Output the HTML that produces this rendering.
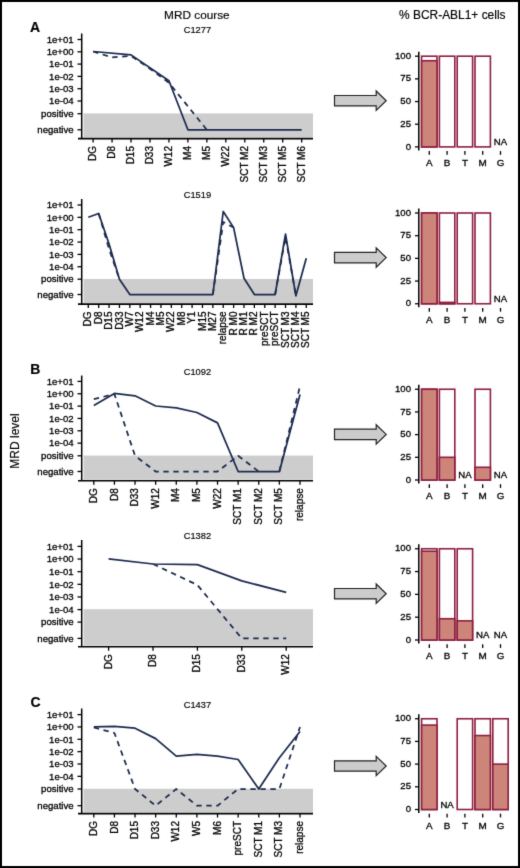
<!DOCTYPE html>
<html><head><meta charset="utf-8"><style>
html,body{margin:0;padding:0;background:#fff;}
#f{position:absolute;left:0;top:0;width:520px;height:868px;overflow:hidden;}
svg text{font-family:"Liberation Sans", sans-serif;stroke:#000;stroke-width:0.3px;}
svg text.ns{stroke-width:0.16px;}
</style></head><body><div id="f">
<svg width="520" height="868" viewBox="0 0 520 868">
<defs><filter id="bl" x="0" y="0" width="1" height="1" color-interpolation-filters="sRGB"><feConvolveMatrix order="3" kernelMatrix="0.0114 0.0841 0.0114 0.0841 0.6178 0.0841 0.0114 0.0841 0.0114" edgeMode="duplicate"/></filter></defs>
<g filter="url(#bl)">
<rect x="0" y="0" width="520" height="868" fill="#fff"/>
<rect x="83.6" y="113.45" width="229.40" height="23.95" fill="#cdcdcd"/>
<line x1="81.70" y1="33.50" x2="81.70" y2="138.70" stroke="#000" stroke-width="1.5"/>
<line x1="78.00" y1="138.60" x2="313.00" y2="138.60" stroke="#000" stroke-width="1.6"/>
<line x1="77.50" y1="39.50" x2="81.70" y2="39.50" stroke="#000" stroke-width="1.3"/>
<text x="73.60" y="42.70" font-size="9.6" text-anchor="end" font-weight="normal" fill="#000">1e+01</text>
<line x1="77.50" y1="51.80" x2="81.70" y2="51.80" stroke="#000" stroke-width="1.3"/>
<text x="73.60" y="55.00" font-size="9.6" text-anchor="end" font-weight="normal" fill="#000">1e+00</text>
<line x1="77.50" y1="64.10" x2="81.70" y2="64.10" stroke="#000" stroke-width="1.3"/>
<text x="73.60" y="67.30" font-size="9.6" text-anchor="end" font-weight="normal" fill="#000">1e-01</text>
<line x1="77.50" y1="76.40" x2="81.70" y2="76.40" stroke="#000" stroke-width="1.3"/>
<text x="73.60" y="79.60" font-size="9.6" text-anchor="end" font-weight="normal" fill="#000">1e-02</text>
<line x1="77.50" y1="88.70" x2="81.70" y2="88.70" stroke="#000" stroke-width="1.3"/>
<text x="73.60" y="91.90" font-size="9.6" text-anchor="end" font-weight="normal" fill="#000">1e-03</text>
<line x1="77.50" y1="101.00" x2="81.70" y2="101.00" stroke="#000" stroke-width="1.3"/>
<text x="73.60" y="104.20" font-size="9.6" text-anchor="end" font-weight="normal" fill="#000">1e-04</text>
<line x1="77.50" y1="113.70" x2="81.70" y2="113.70" stroke="#000" stroke-width="1.3"/>
<text x="73.60" y="116.90" font-size="9.6" text-anchor="end" font-weight="normal" fill="#000">positive</text>
<line x1="77.50" y1="129.80" x2="81.70" y2="129.80" stroke="#000" stroke-width="1.3"/>
<text x="73.60" y="133.00" font-size="9.6" text-anchor="end" font-weight="normal" fill="#000">negative</text>
<line x1="93.10" y1="138.70" x2="93.10" y2="142.50" stroke="#000" stroke-width="1.3"/>
<text x="96.20" y="146.00" font-size="10.0" text-anchor="end" font-weight="normal" fill="#000" transform="rotate(-90 96.19999999999999 146.0)">DG</text>
<line x1="112.06" y1="138.70" x2="112.06" y2="142.50" stroke="#000" stroke-width="1.3"/>
<text x="115.16" y="146.00" font-size="10.0" text-anchor="end" font-weight="normal" fill="#000" transform="rotate(-90 115.16 146.0)">D8</text>
<line x1="131.02" y1="138.70" x2="131.02" y2="142.50" stroke="#000" stroke-width="1.3"/>
<text x="134.12" y="146.00" font-size="10.0" text-anchor="end" font-weight="normal" fill="#000" transform="rotate(-90 134.11999999999998 146.0)">D15</text>
<line x1="149.98" y1="138.70" x2="149.98" y2="142.50" stroke="#000" stroke-width="1.3"/>
<text x="153.08" y="146.00" font-size="10.0" text-anchor="end" font-weight="normal" fill="#000" transform="rotate(-90 153.07999999999998 146.0)">D33</text>
<line x1="168.94" y1="138.70" x2="168.94" y2="142.50" stroke="#000" stroke-width="1.3"/>
<text x="172.04" y="146.00" font-size="10.0" text-anchor="end" font-weight="normal" fill="#000" transform="rotate(-90 172.04 146.0)">W12</text>
<line x1="187.90" y1="138.70" x2="187.90" y2="142.50" stroke="#000" stroke-width="1.3"/>
<text x="191.00" y="146.00" font-size="10.0" text-anchor="end" font-weight="normal" fill="#000" transform="rotate(-90 191.0 146.0)">M4</text>
<line x1="206.86" y1="138.70" x2="206.86" y2="142.50" stroke="#000" stroke-width="1.3"/>
<text x="209.96" y="146.00" font-size="10.0" text-anchor="end" font-weight="normal" fill="#000" transform="rotate(-90 209.96 146.0)">M5</text>
<line x1="225.82" y1="138.70" x2="225.82" y2="142.50" stroke="#000" stroke-width="1.3"/>
<text x="228.92" y="146.00" font-size="10.0" text-anchor="end" font-weight="normal" fill="#000" transform="rotate(-90 228.92 146.0)">W22</text>
<line x1="244.78" y1="138.70" x2="244.78" y2="142.50" stroke="#000" stroke-width="1.3"/>
<text x="247.88" y="146.00" font-size="10.0" text-anchor="end" font-weight="normal" fill="#000" transform="rotate(-90 247.88 146.0)">SCT M2</text>
<line x1="263.74" y1="138.70" x2="263.74" y2="142.50" stroke="#000" stroke-width="1.3"/>
<text x="266.84" y="146.00" font-size="10.0" text-anchor="end" font-weight="normal" fill="#000" transform="rotate(-90 266.84000000000003 146.0)">SCT M3</text>
<line x1="282.70" y1="138.70" x2="282.70" y2="142.50" stroke="#000" stroke-width="1.3"/>
<text x="285.80" y="146.00" font-size="10.0" text-anchor="end" font-weight="normal" fill="#000" transform="rotate(-90 285.80000000000007 146.0)">SCT M5</text>
<line x1="301.66" y1="138.70" x2="301.66" y2="142.50" stroke="#000" stroke-width="1.3"/>
<text x="304.76" y="146.00" font-size="10.0" text-anchor="end" font-weight="normal" fill="#000" transform="rotate(-90 304.76 146.0)">SCT M6</text>
<text x="197.40" y="33.30" font-size="9.3" text-anchor="middle" font-weight="normal" fill="#000" class="ns">C1277</text>
<polyline points="93.10,51.50 112.06,57.40 131.02,55.80 149.98,68.80 168.94,82.80 206.86,129.80" fill="none" stroke="#1d2b4e" stroke-width="1.75" stroke-linejoin="round" stroke-dasharray="5.4 4.6"/>
<polyline points="93.10,51.50 131.02,54.90 168.94,80.70 187.90,129.80 301.66,129.80" fill="none" stroke="#1d2b4e" stroke-width="1.75" stroke-linejoin="round"/>
<rect x="83.6" y="278.95" width="229.40" height="23.95" fill="#cdcdcd"/>
<line x1="81.70" y1="199.00" x2="81.70" y2="304.20" stroke="#000" stroke-width="1.5"/>
<line x1="78.00" y1="304.10" x2="313.00" y2="304.10" stroke="#000" stroke-width="1.6"/>
<line x1="77.50" y1="205.00" x2="81.70" y2="205.00" stroke="#000" stroke-width="1.3"/>
<text x="73.60" y="208.20" font-size="9.6" text-anchor="end" font-weight="normal" fill="#000">1e+01</text>
<line x1="77.50" y1="217.35" x2="81.70" y2="217.35" stroke="#000" stroke-width="1.3"/>
<text x="73.60" y="220.55" font-size="9.6" text-anchor="end" font-weight="normal" fill="#000">1e+00</text>
<line x1="77.50" y1="229.70" x2="81.70" y2="229.70" stroke="#000" stroke-width="1.3"/>
<text x="73.60" y="232.90" font-size="9.6" text-anchor="end" font-weight="normal" fill="#000">1e-01</text>
<line x1="77.50" y1="242.05" x2="81.70" y2="242.05" stroke="#000" stroke-width="1.3"/>
<text x="73.60" y="245.25" font-size="9.6" text-anchor="end" font-weight="normal" fill="#000">1e-02</text>
<line x1="77.50" y1="254.40" x2="81.70" y2="254.40" stroke="#000" stroke-width="1.3"/>
<text x="73.60" y="257.60" font-size="9.6" text-anchor="end" font-weight="normal" fill="#000">1e-03</text>
<line x1="77.50" y1="266.75" x2="81.70" y2="266.75" stroke="#000" stroke-width="1.3"/>
<text x="73.60" y="269.95" font-size="9.6" text-anchor="end" font-weight="normal" fill="#000">1e-04</text>
<line x1="77.50" y1="279.20" x2="81.70" y2="279.20" stroke="#000" stroke-width="1.3"/>
<text x="73.60" y="282.40" font-size="9.6" text-anchor="end" font-weight="normal" fill="#000">positive</text>
<line x1="77.50" y1="294.50" x2="81.70" y2="294.50" stroke="#000" stroke-width="1.3"/>
<text x="73.60" y="297.70" font-size="9.6" text-anchor="end" font-weight="normal" fill="#000">negative</text>
<line x1="88.30" y1="304.20" x2="88.30" y2="308.00" stroke="#000" stroke-width="1.3"/>
<text x="91.40" y="311.50" font-size="10.0" text-anchor="end" font-weight="normal" fill="#000" transform="rotate(-90 91.39999999999999 311.5)">DG</text>
<line x1="98.68" y1="304.20" x2="98.68" y2="308.00" stroke="#000" stroke-width="1.3"/>
<text x="101.78" y="311.50" font-size="10.0" text-anchor="end" font-weight="normal" fill="#000" transform="rotate(-90 101.77999999999999 311.5)">D8</text>
<line x1="109.06" y1="304.20" x2="109.06" y2="308.00" stroke="#000" stroke-width="1.3"/>
<text x="112.16" y="311.50" font-size="10.0" text-anchor="end" font-weight="normal" fill="#000" transform="rotate(-90 112.16 311.5)">D15</text>
<line x1="119.44" y1="304.20" x2="119.44" y2="308.00" stroke="#000" stroke-width="1.3"/>
<text x="122.54" y="311.50" font-size="10.0" text-anchor="end" font-weight="normal" fill="#000" transform="rotate(-90 122.53999999999999 311.5)">D33</text>
<line x1="129.82" y1="304.20" x2="129.82" y2="308.00" stroke="#000" stroke-width="1.3"/>
<text x="132.92" y="311.50" font-size="10.0" text-anchor="end" font-weight="normal" fill="#000" transform="rotate(-90 132.92 311.5)">W7</text>
<line x1="140.20" y1="304.20" x2="140.20" y2="308.00" stroke="#000" stroke-width="1.3"/>
<text x="143.30" y="311.50" font-size="10.0" text-anchor="end" font-weight="normal" fill="#000" transform="rotate(-90 143.29999999999998 311.5)">W12</text>
<line x1="150.58" y1="304.20" x2="150.58" y2="308.00" stroke="#000" stroke-width="1.3"/>
<text x="153.68" y="311.50" font-size="10.0" text-anchor="end" font-weight="normal" fill="#000" transform="rotate(-90 153.67999999999998 311.5)">M4</text>
<line x1="160.96" y1="304.20" x2="160.96" y2="308.00" stroke="#000" stroke-width="1.3"/>
<text x="164.06" y="311.50" font-size="10.0" text-anchor="end" font-weight="normal" fill="#000" transform="rotate(-90 164.06 311.5)">M5</text>
<line x1="171.34" y1="304.20" x2="171.34" y2="308.00" stroke="#000" stroke-width="1.3"/>
<text x="174.44" y="311.50" font-size="10.0" text-anchor="end" font-weight="normal" fill="#000" transform="rotate(-90 174.44 311.5)">W22</text>
<line x1="181.72" y1="304.20" x2="181.72" y2="308.00" stroke="#000" stroke-width="1.3"/>
<text x="184.82" y="311.50" font-size="10.0" text-anchor="end" font-weight="normal" fill="#000" transform="rotate(-90 184.82 311.5)">M8</text>
<line x1="192.10" y1="304.20" x2="192.10" y2="308.00" stroke="#000" stroke-width="1.3"/>
<text x="195.20" y="311.50" font-size="10.0" text-anchor="end" font-weight="normal" fill="#000" transform="rotate(-90 195.20000000000002 311.5)">Y1</text>
<line x1="202.48" y1="304.20" x2="202.48" y2="308.00" stroke="#000" stroke-width="1.3"/>
<text x="205.58" y="311.50" font-size="10.0" text-anchor="end" font-weight="normal" fill="#000" transform="rotate(-90 205.58 311.5)">M15</text>
<line x1="212.86" y1="304.20" x2="212.86" y2="308.00" stroke="#000" stroke-width="1.3"/>
<text x="215.96" y="311.50" font-size="10.0" text-anchor="end" font-weight="normal" fill="#000" transform="rotate(-90 215.96 311.5)">M27</text>
<line x1="223.24" y1="304.20" x2="223.24" y2="308.00" stroke="#000" stroke-width="1.3"/>
<text x="226.34" y="311.50" font-size="10.0" text-anchor="end" font-weight="normal" fill="#000" transform="rotate(-90 226.34 311.5)">relapse</text>
<line x1="233.62" y1="304.20" x2="233.62" y2="308.00" stroke="#000" stroke-width="1.3"/>
<text x="236.72" y="311.50" font-size="10.0" text-anchor="end" font-weight="normal" fill="#000" transform="rotate(-90 236.72 311.5)">R M0</text>
<line x1="244.00" y1="304.20" x2="244.00" y2="308.00" stroke="#000" stroke-width="1.3"/>
<text x="247.10" y="311.50" font-size="10.0" text-anchor="end" font-weight="normal" fill="#000" transform="rotate(-90 247.1 311.5)">R M1</text>
<line x1="254.38" y1="304.20" x2="254.38" y2="308.00" stroke="#000" stroke-width="1.3"/>
<text x="257.48" y="311.50" font-size="10.0" text-anchor="end" font-weight="normal" fill="#000" transform="rotate(-90 257.48 311.5)">R M2</text>
<line x1="264.76" y1="304.20" x2="264.76" y2="308.00" stroke="#000" stroke-width="1.3"/>
<text x="267.86" y="311.50" font-size="10.0" text-anchor="end" font-weight="normal" fill="#000" transform="rotate(-90 267.86 311.5)">preSCT</text>
<line x1="275.14" y1="304.20" x2="275.14" y2="308.00" stroke="#000" stroke-width="1.3"/>
<text x="278.24" y="311.50" font-size="10.0" text-anchor="end" font-weight="normal" fill="#000" transform="rotate(-90 278.24 311.5)">preSCT</text>
<line x1="285.52" y1="304.20" x2="285.52" y2="308.00" stroke="#000" stroke-width="1.3"/>
<text x="288.62" y="311.50" font-size="10.0" text-anchor="end" font-weight="normal" fill="#000" transform="rotate(-90 288.62000000000006 311.5)">SCT M3</text>
<line x1="295.90" y1="304.20" x2="295.90" y2="308.00" stroke="#000" stroke-width="1.3"/>
<text x="299.00" y="311.50" font-size="10.0" text-anchor="end" font-weight="normal" fill="#000" transform="rotate(-90 299.00000000000006 311.5)">SCT M4</text>
<line x1="306.28" y1="304.20" x2="306.28" y2="308.00" stroke="#000" stroke-width="1.3"/>
<text x="309.38" y="311.50" font-size="10.0" text-anchor="end" font-weight="normal" fill="#000" transform="rotate(-90 309.38000000000005 311.5)">SCT M5</text>
<text x="197.40" y="198.00" font-size="9.3" text-anchor="middle" font-weight="normal" fill="#000" class="ns">C1519</text>
<polyline points="98.68,213.50 109.06,249.00 119.44,279.20" fill="none" stroke="#1d2b4e" stroke-width="1.75" stroke-linejoin="round" stroke-dasharray="5.4 4.6"/>
<polyline points="212.86,294.50 223.24,222.00 233.62,227.60" fill="none" stroke="#1d2b4e" stroke-width="1.75" stroke-linejoin="round" stroke-dasharray="5.4 4.6"/>
<polyline points="275.14,294.50 285.52,237.00 295.90,295.80" fill="none" stroke="#1d2b4e" stroke-width="1.75" stroke-linejoin="round" stroke-dasharray="5.4 4.6"/>
<polyline points="88.30,217.30 98.68,213.50 109.06,244.00 119.44,279.20 129.82,294.50 212.86,294.50 223.24,211.50 233.62,227.60 244.00,278.30 254.38,294.50 275.14,294.50 285.52,234.20 295.90,295.80 306.28,258.20" fill="none" stroke="#1d2b4e" stroke-width="1.75" stroke-linejoin="round"/>
<rect x="83.6" y="455.55" width="229.40" height="24.05" fill="#cdcdcd"/>
<line x1="81.70" y1="375.50" x2="81.70" y2="480.90" stroke="#000" stroke-width="1.5"/>
<line x1="78.00" y1="480.80" x2="313.00" y2="480.80" stroke="#000" stroke-width="1.6"/>
<line x1="77.50" y1="381.40" x2="81.70" y2="381.40" stroke="#000" stroke-width="1.3"/>
<text x="73.60" y="384.60" font-size="9.6" text-anchor="end" font-weight="normal" fill="#000">1e+01</text>
<line x1="77.50" y1="393.75" x2="81.70" y2="393.75" stroke="#000" stroke-width="1.3"/>
<text x="73.60" y="396.95" font-size="9.6" text-anchor="end" font-weight="normal" fill="#000">1e+00</text>
<line x1="77.50" y1="406.10" x2="81.70" y2="406.10" stroke="#000" stroke-width="1.3"/>
<text x="73.60" y="409.30" font-size="9.6" text-anchor="end" font-weight="normal" fill="#000">1e-01</text>
<line x1="77.50" y1="418.45" x2="81.70" y2="418.45" stroke="#000" stroke-width="1.3"/>
<text x="73.60" y="421.65" font-size="9.6" text-anchor="end" font-weight="normal" fill="#000">1e-02</text>
<line x1="77.50" y1="430.80" x2="81.70" y2="430.80" stroke="#000" stroke-width="1.3"/>
<text x="73.60" y="434.00" font-size="9.6" text-anchor="end" font-weight="normal" fill="#000">1e-03</text>
<line x1="77.50" y1="443.15" x2="81.70" y2="443.15" stroke="#000" stroke-width="1.3"/>
<text x="73.60" y="446.35" font-size="9.6" text-anchor="end" font-weight="normal" fill="#000">1e-04</text>
<line x1="77.50" y1="455.80" x2="81.70" y2="455.80" stroke="#000" stroke-width="1.3"/>
<text x="73.60" y="459.00" font-size="9.6" text-anchor="end" font-weight="normal" fill="#000">positive</text>
<line x1="77.50" y1="471.50" x2="81.70" y2="471.50" stroke="#000" stroke-width="1.3"/>
<text x="73.60" y="474.70" font-size="9.6" text-anchor="end" font-weight="normal" fill="#000">negative</text>
<line x1="93.80" y1="480.90" x2="93.80" y2="484.70" stroke="#000" stroke-width="1.3"/>
<text x="96.90" y="488.20" font-size="10.0" text-anchor="end" font-weight="normal" fill="#000" transform="rotate(-90 96.89999999999999 488.2)">DG</text>
<line x1="114.42" y1="480.90" x2="114.42" y2="484.70" stroke="#000" stroke-width="1.3"/>
<text x="117.52" y="488.20" font-size="10.0" text-anchor="end" font-weight="normal" fill="#000" transform="rotate(-90 117.52 488.2)">D8</text>
<line x1="135.04" y1="480.90" x2="135.04" y2="484.70" stroke="#000" stroke-width="1.3"/>
<text x="138.14" y="488.20" font-size="10.0" text-anchor="end" font-weight="normal" fill="#000" transform="rotate(-90 138.14 488.2)">D33</text>
<line x1="155.66" y1="480.90" x2="155.66" y2="484.70" stroke="#000" stroke-width="1.3"/>
<text x="158.76" y="488.20" font-size="10.0" text-anchor="end" font-weight="normal" fill="#000" transform="rotate(-90 158.76 488.2)">W12</text>
<line x1="176.28" y1="480.90" x2="176.28" y2="484.70" stroke="#000" stroke-width="1.3"/>
<text x="179.38" y="488.20" font-size="10.0" text-anchor="end" font-weight="normal" fill="#000" transform="rotate(-90 179.38 488.2)">M4</text>
<line x1="196.90" y1="480.90" x2="196.90" y2="484.70" stroke="#000" stroke-width="1.3"/>
<text x="200.00" y="488.20" font-size="10.0" text-anchor="end" font-weight="normal" fill="#000" transform="rotate(-90 200.0 488.2)">M5</text>
<line x1="217.52" y1="480.90" x2="217.52" y2="484.70" stroke="#000" stroke-width="1.3"/>
<text x="220.62" y="488.20" font-size="10.0" text-anchor="end" font-weight="normal" fill="#000" transform="rotate(-90 220.61999999999998 488.2)">W22</text>
<line x1="238.14" y1="480.90" x2="238.14" y2="484.70" stroke="#000" stroke-width="1.3"/>
<text x="241.24" y="488.20" font-size="10.0" text-anchor="end" font-weight="normal" fill="#000" transform="rotate(-90 241.23999999999998 488.2)">SCT M1</text>
<line x1="258.76" y1="480.90" x2="258.76" y2="484.70" stroke="#000" stroke-width="1.3"/>
<text x="261.86" y="488.20" font-size="10.0" text-anchor="end" font-weight="normal" fill="#000" transform="rotate(-90 261.86 488.2)">SCT M2</text>
<line x1="279.38" y1="480.90" x2="279.38" y2="484.70" stroke="#000" stroke-width="1.3"/>
<text x="282.48" y="488.20" font-size="10.0" text-anchor="end" font-weight="normal" fill="#000" transform="rotate(-90 282.48 488.2)">SCT M5</text>
<line x1="300.00" y1="480.90" x2="300.00" y2="484.70" stroke="#000" stroke-width="1.3"/>
<text x="303.10" y="488.20" font-size="10.0" text-anchor="end" font-weight="normal" fill="#000" transform="rotate(-90 303.1 488.2)">relapse</text>
<text x="197.40" y="374.60" font-size="9.3" text-anchor="middle" font-weight="normal" fill="#000" class="ns">C1092</text>
<polyline points="93.80,399.20 114.42,394.00 135.04,455.80 155.66,471.50 217.52,471.50 238.14,455.80 258.76,471.50" fill="none" stroke="#1d2b4e" stroke-width="1.75" stroke-linejoin="round" stroke-dasharray="5.4 4.6"/>
<polyline points="279.38,471.50 300.00,386.00" fill="none" stroke="#1d2b4e" stroke-width="1.75" stroke-linejoin="round" stroke-dasharray="5.4 4.6"/>
<polyline points="93.80,405.40 114.42,393.40 135.04,395.80 155.66,406.00 176.28,407.80 196.90,412.50 217.52,422.90 238.14,471.50 279.38,471.50 300.00,394.60" fill="none" stroke="#1d2b4e" stroke-width="1.75" stroke-linejoin="round"/>
<rect x="83.6" y="609.20" width="229.40" height="36.40" fill="#cdcdcd"/>
<line x1="81.70" y1="540.00" x2="81.70" y2="646.90" stroke="#000" stroke-width="1.5"/>
<line x1="78.00" y1="646.80" x2="313.00" y2="646.80" stroke="#000" stroke-width="1.6"/>
<line x1="77.50" y1="546.40" x2="81.70" y2="546.40" stroke="#000" stroke-width="1.3"/>
<text x="73.60" y="549.60" font-size="9.6" text-anchor="end" font-weight="normal" fill="#000">1e+01</text>
<line x1="77.50" y1="559.04" x2="81.70" y2="559.04" stroke="#000" stroke-width="1.3"/>
<text x="73.60" y="562.24" font-size="9.6" text-anchor="end" font-weight="normal" fill="#000">1e+00</text>
<line x1="77.50" y1="571.68" x2="81.70" y2="571.68" stroke="#000" stroke-width="1.3"/>
<text x="73.60" y="574.88" font-size="9.6" text-anchor="end" font-weight="normal" fill="#000">1e-01</text>
<line x1="77.50" y1="584.32" x2="81.70" y2="584.32" stroke="#000" stroke-width="1.3"/>
<text x="73.60" y="587.52" font-size="9.6" text-anchor="end" font-weight="normal" fill="#000">1e-02</text>
<line x1="77.50" y1="596.96" x2="81.70" y2="596.96" stroke="#000" stroke-width="1.3"/>
<text x="73.60" y="600.16" font-size="9.6" text-anchor="end" font-weight="normal" fill="#000">1e-03</text>
<line x1="77.50" y1="609.60" x2="81.70" y2="609.60" stroke="#000" stroke-width="1.3"/>
<text x="73.60" y="612.80" font-size="9.6" text-anchor="end" font-weight="normal" fill="#000">1e-04</text>
<line x1="77.50" y1="622.10" x2="81.70" y2="622.10" stroke="#000" stroke-width="1.3"/>
<text x="73.60" y="625.30" font-size="9.6" text-anchor="end" font-weight="normal" fill="#000">positive</text>
<line x1="77.50" y1="638.40" x2="81.70" y2="638.40" stroke="#000" stroke-width="1.3"/>
<text x="73.60" y="641.60" font-size="9.6" text-anchor="end" font-weight="normal" fill="#000">negative</text>
<line x1="108.60" y1="646.90" x2="108.60" y2="650.70" stroke="#000" stroke-width="1.3"/>
<text x="111.70" y="654.20" font-size="10.0" text-anchor="end" font-weight="normal" fill="#000" transform="rotate(-90 111.69999999999999 654.2)">DG</text>
<line x1="153.00" y1="646.90" x2="153.00" y2="650.70" stroke="#000" stroke-width="1.3"/>
<text x="156.10" y="654.20" font-size="10.0" text-anchor="end" font-weight="normal" fill="#000" transform="rotate(-90 156.1 654.2)">D8</text>
<line x1="197.40" y1="646.90" x2="197.40" y2="650.70" stroke="#000" stroke-width="1.3"/>
<text x="200.50" y="654.20" font-size="10.0" text-anchor="end" font-weight="normal" fill="#000" transform="rotate(-90 200.49999999999997 654.2)">D15</text>
<line x1="241.80" y1="646.90" x2="241.80" y2="650.70" stroke="#000" stroke-width="1.3"/>
<text x="244.90" y="654.20" font-size="10.0" text-anchor="end" font-weight="normal" fill="#000" transform="rotate(-90 244.89999999999998 654.2)">D33</text>
<line x1="286.20" y1="646.90" x2="286.20" y2="650.70" stroke="#000" stroke-width="1.3"/>
<text x="289.30" y="654.20" font-size="10.0" text-anchor="end" font-weight="normal" fill="#000" transform="rotate(-90 289.3 654.2)">W12</text>
<text x="197.40" y="539.00" font-size="9.3" text-anchor="middle" font-weight="normal" fill="#000" class="ns">C1382</text>
<polyline points="153.00,564.00 197.40,585.00 241.80,638.40 286.20,638.40" fill="none" stroke="#1d2b4e" stroke-width="1.75" stroke-linejoin="round" stroke-dasharray="5.4 4.6"/>
<polyline points="108.60,558.80 153.00,564.00 197.40,564.60 241.80,580.90 286.20,592.30" fill="none" stroke="#1d2b4e" stroke-width="1.75" stroke-linejoin="round"/>
<rect x="83.6" y="788.75" width="229.40" height="23.65" fill="#cdcdcd"/>
<line x1="81.70" y1="708.50" x2="81.70" y2="813.70" stroke="#000" stroke-width="1.5"/>
<line x1="78.00" y1="813.60" x2="313.00" y2="813.60" stroke="#000" stroke-width="1.6"/>
<line x1="77.50" y1="714.60" x2="81.70" y2="714.60" stroke="#000" stroke-width="1.3"/>
<text x="73.60" y="717.80" font-size="9.6" text-anchor="end" font-weight="normal" fill="#000">1e+01</text>
<line x1="77.50" y1="726.95" x2="81.70" y2="726.95" stroke="#000" stroke-width="1.3"/>
<text x="73.60" y="730.15" font-size="9.6" text-anchor="end" font-weight="normal" fill="#000">1e+00</text>
<line x1="77.50" y1="739.30" x2="81.70" y2="739.30" stroke="#000" stroke-width="1.3"/>
<text x="73.60" y="742.50" font-size="9.6" text-anchor="end" font-weight="normal" fill="#000">1e-01</text>
<line x1="77.50" y1="751.65" x2="81.70" y2="751.65" stroke="#000" stroke-width="1.3"/>
<text x="73.60" y="754.85" font-size="9.6" text-anchor="end" font-weight="normal" fill="#000">1e-02</text>
<line x1="77.50" y1="764.00" x2="81.70" y2="764.00" stroke="#000" stroke-width="1.3"/>
<text x="73.60" y="767.20" font-size="9.6" text-anchor="end" font-weight="normal" fill="#000">1e-03</text>
<line x1="77.50" y1="776.35" x2="81.70" y2="776.35" stroke="#000" stroke-width="1.3"/>
<text x="73.60" y="779.55" font-size="9.6" text-anchor="end" font-weight="normal" fill="#000">1e-04</text>
<line x1="77.50" y1="789.00" x2="81.70" y2="789.00" stroke="#000" stroke-width="1.3"/>
<text x="73.60" y="792.20" font-size="9.6" text-anchor="end" font-weight="normal" fill="#000">positive</text>
<line x1="77.50" y1="805.70" x2="81.70" y2="805.70" stroke="#000" stroke-width="1.3"/>
<text x="73.60" y="808.90" font-size="9.6" text-anchor="end" font-weight="normal" fill="#000">negative</text>
<line x1="93.80" y1="813.70" x2="93.80" y2="817.50" stroke="#000" stroke-width="1.3"/>
<text x="96.90" y="821.00" font-size="10.0" text-anchor="end" font-weight="normal" fill="#000" transform="rotate(-90 96.89999999999999 821.0)">DG</text>
<line x1="114.42" y1="813.70" x2="114.42" y2="817.50" stroke="#000" stroke-width="1.3"/>
<text x="117.52" y="821.00" font-size="10.0" text-anchor="end" font-weight="normal" fill="#000" transform="rotate(-90 117.52 821.0)">D8</text>
<line x1="135.04" y1="813.70" x2="135.04" y2="817.50" stroke="#000" stroke-width="1.3"/>
<text x="138.14" y="821.00" font-size="10.0" text-anchor="end" font-weight="normal" fill="#000" transform="rotate(-90 138.14 821.0)">D15</text>
<line x1="155.66" y1="813.70" x2="155.66" y2="817.50" stroke="#000" stroke-width="1.3"/>
<text x="158.76" y="821.00" font-size="10.0" text-anchor="end" font-weight="normal" fill="#000" transform="rotate(-90 158.76 821.0)">D33</text>
<line x1="176.28" y1="813.70" x2="176.28" y2="817.50" stroke="#000" stroke-width="1.3"/>
<text x="179.38" y="821.00" font-size="10.0" text-anchor="end" font-weight="normal" fill="#000" transform="rotate(-90 179.38 821.0)">W12</text>
<line x1="196.90" y1="813.70" x2="196.90" y2="817.50" stroke="#000" stroke-width="1.3"/>
<text x="200.00" y="821.00" font-size="10.0" text-anchor="end" font-weight="normal" fill="#000" transform="rotate(-90 200.0 821.0)">W5</text>
<line x1="217.52" y1="813.70" x2="217.52" y2="817.50" stroke="#000" stroke-width="1.3"/>
<text x="220.62" y="821.00" font-size="10.0" text-anchor="end" font-weight="normal" fill="#000" transform="rotate(-90 220.61999999999998 821.0)">M6</text>
<line x1="238.14" y1="813.70" x2="238.14" y2="817.50" stroke="#000" stroke-width="1.3"/>
<text x="241.24" y="821.00" font-size="10.0" text-anchor="end" font-weight="normal" fill="#000" transform="rotate(-90 241.23999999999998 821.0)">preSCT</text>
<line x1="258.76" y1="813.70" x2="258.76" y2="817.50" stroke="#000" stroke-width="1.3"/>
<text x="261.86" y="821.00" font-size="10.0" text-anchor="end" font-weight="normal" fill="#000" transform="rotate(-90 261.86 821.0)">SCT M1</text>
<line x1="279.38" y1="813.70" x2="279.38" y2="817.50" stroke="#000" stroke-width="1.3"/>
<text x="282.48" y="821.00" font-size="10.0" text-anchor="end" font-weight="normal" fill="#000" transform="rotate(-90 282.48 821.0)">SCT M3</text>
<line x1="300.00" y1="813.70" x2="300.00" y2="817.50" stroke="#000" stroke-width="1.3"/>
<text x="303.10" y="821.00" font-size="10.0" text-anchor="end" font-weight="normal" fill="#000" transform="rotate(-90 303.1 821.0)">relapse</text>
<text x="197.40" y="707.80" font-size="9.3" text-anchor="middle" font-weight="normal" fill="#000" class="ns">C1437</text>
<polyline points="93.80,727.50 114.42,733.00 135.04,789.00 155.66,805.70 176.28,789.00 196.90,805.70 217.52,805.70 238.14,789.00 258.76,789.00 279.38,789.00 300.00,727.00" fill="none" stroke="#1d2b4e" stroke-width="1.75" stroke-linejoin="round" stroke-dasharray="5.4 4.6"/>
<polyline points="93.80,726.90 114.42,726.30 135.04,728.20 155.66,738.60 176.28,756.20 196.90,754.30 217.52,756.20 238.14,759.50 258.76,789.00 279.38,757.70 300.00,731.50" fill="none" stroke="#1d2b4e" stroke-width="1.75" stroke-linejoin="round"/>
<line x1="418.80" y1="51.80" x2="418.80" y2="150.50" stroke="#000" stroke-width="1.5"/>
<line x1="415.00" y1="146.90" x2="418.80" y2="146.90" stroke="#000" stroke-width="1.3"/>
<text x="411.00" y="149.50" font-size="9.6" text-anchor="end" font-weight="normal" fill="#000">0</text>
<line x1="415.00" y1="124.23" x2="418.80" y2="124.23" stroke="#000" stroke-width="1.3"/>
<text x="411.00" y="126.83" font-size="9.6" text-anchor="end" font-weight="normal" fill="#000">25</text>
<line x1="415.00" y1="101.55" x2="418.80" y2="101.55" stroke="#000" stroke-width="1.3"/>
<text x="411.00" y="104.15" font-size="9.6" text-anchor="end" font-weight="normal" fill="#000">50</text>
<line x1="415.00" y1="78.88" x2="418.80" y2="78.88" stroke="#000" stroke-width="1.3"/>
<text x="411.00" y="81.47" font-size="9.6" text-anchor="end" font-weight="normal" fill="#000">75</text>
<line x1="415.00" y1="56.20" x2="418.80" y2="56.20" stroke="#000" stroke-width="1.3"/>
<text x="411.00" y="58.80" font-size="9.6" text-anchor="end" font-weight="normal" fill="#000">100</text>
<line x1="429.30" y1="151.10" x2="429.30" y2="154.80" stroke="#000" stroke-width="1.3"/>
<text x="429.30" y="165.90" font-size="9.9" text-anchor="middle" font-weight="normal" fill="#000">A</text>
<rect x="421.60" y="56.20" width="15.40" height="90.70" fill="#fff" stroke="#8e1e40" stroke-width="1.6"/>
<rect x="421.60" y="60.73" width="15.40" height="86.17" fill="#cd857a" stroke="#8e1e40" stroke-width="1.6"/>
<line x1="447.10" y1="151.10" x2="447.10" y2="154.80" stroke="#000" stroke-width="1.3"/>
<text x="447.10" y="165.90" font-size="9.9" text-anchor="middle" font-weight="normal" fill="#000">B</text>
<rect x="439.40" y="56.20" width="15.40" height="90.70" fill="#fff" stroke="#8e1e40" stroke-width="1.6"/>
<line x1="464.90" y1="151.10" x2="464.90" y2="154.80" stroke="#000" stroke-width="1.3"/>
<text x="464.90" y="165.90" font-size="9.9" text-anchor="middle" font-weight="normal" fill="#000">T</text>
<rect x="457.20" y="56.20" width="15.40" height="90.70" fill="#fff" stroke="#8e1e40" stroke-width="1.6"/>
<line x1="482.70" y1="151.10" x2="482.70" y2="154.80" stroke="#000" stroke-width="1.3"/>
<text x="482.70" y="165.90" font-size="9.9" text-anchor="middle" font-weight="normal" fill="#000">M</text>
<rect x="475.00" y="56.20" width="15.40" height="90.70" fill="#fff" stroke="#8e1e40" stroke-width="1.6"/>
<line x1="500.50" y1="151.10" x2="500.50" y2="154.80" stroke="#000" stroke-width="1.3"/>
<text x="500.50" y="165.90" font-size="9.9" text-anchor="middle" font-weight="normal" fill="#000">G</text>
<text x="500.50" y="145.10" font-size="9.6" text-anchor="middle" font-weight="normal" fill="#000">NA</text>
<path d="M334.5,95.5 L376.2,95.5 L376.2,91.0 L386.2,100.7 L376.2,110.4 L376.2,105.9 L334.5,105.9 Z" fill="#cccccc" stroke="#222" stroke-width="1.2" stroke-linejoin="miter"/>
<line x1="418.80" y1="208.60" x2="418.80" y2="307.35" stroke="#000" stroke-width="1.5"/>
<line x1="415.00" y1="303.75" x2="418.80" y2="303.75" stroke="#000" stroke-width="1.3"/>
<text x="411.00" y="306.35" font-size="9.6" text-anchor="end" font-weight="normal" fill="#000">0</text>
<line x1="415.00" y1="281.06" x2="418.80" y2="281.06" stroke="#000" stroke-width="1.3"/>
<text x="411.00" y="283.66" font-size="9.6" text-anchor="end" font-weight="normal" fill="#000">25</text>
<line x1="415.00" y1="258.38" x2="418.80" y2="258.38" stroke="#000" stroke-width="1.3"/>
<text x="411.00" y="260.98" font-size="9.6" text-anchor="end" font-weight="normal" fill="#000">50</text>
<line x1="415.00" y1="235.69" x2="418.80" y2="235.69" stroke="#000" stroke-width="1.3"/>
<text x="411.00" y="238.29" font-size="9.6" text-anchor="end" font-weight="normal" fill="#000">75</text>
<line x1="415.00" y1="213.00" x2="418.80" y2="213.00" stroke="#000" stroke-width="1.3"/>
<text x="411.00" y="215.60" font-size="9.6" text-anchor="end" font-weight="normal" fill="#000">100</text>
<line x1="429.30" y1="307.95" x2="429.30" y2="311.65" stroke="#000" stroke-width="1.3"/>
<text x="429.30" y="322.75" font-size="9.9" text-anchor="middle" font-weight="normal" fill="#000">A</text>
<rect x="421.60" y="213.00" width="15.40" height="90.75" fill="#fff" stroke="#8e1e40" stroke-width="1.6"/>
<rect x="421.60" y="213.00" width="15.40" height="90.75" fill="#cd857a" stroke="#8e1e40" stroke-width="1.6"/>
<line x1="447.10" y1="307.95" x2="447.10" y2="311.65" stroke="#000" stroke-width="1.3"/>
<text x="447.10" y="322.75" font-size="9.9" text-anchor="middle" font-weight="normal" fill="#000">B</text>
<rect x="439.40" y="213.00" width="15.40" height="90.75" fill="#fff" stroke="#8e1e40" stroke-width="1.6"/>
<rect x="439.40" y="302.39" width="15.40" height="1.36" fill="#cd857a" stroke="#8e1e40" stroke-width="1.6"/>
<line x1="464.90" y1="307.95" x2="464.90" y2="311.65" stroke="#000" stroke-width="1.3"/>
<text x="464.90" y="322.75" font-size="9.9" text-anchor="middle" font-weight="normal" fill="#000">T</text>
<rect x="457.20" y="213.00" width="15.40" height="90.75" fill="#fff" stroke="#8e1e40" stroke-width="1.6"/>
<line x1="482.70" y1="307.95" x2="482.70" y2="311.65" stroke="#000" stroke-width="1.3"/>
<text x="482.70" y="322.75" font-size="9.9" text-anchor="middle" font-weight="normal" fill="#000">M</text>
<rect x="475.00" y="213.00" width="15.40" height="90.75" fill="#fff" stroke="#8e1e40" stroke-width="1.6"/>
<line x1="500.50" y1="307.95" x2="500.50" y2="311.65" stroke="#000" stroke-width="1.3"/>
<text x="500.50" y="322.75" font-size="9.9" text-anchor="middle" font-weight="normal" fill="#000">G</text>
<text x="500.50" y="301.95" font-size="9.6" text-anchor="middle" font-weight="normal" fill="#000">NA</text>
<path d="M334.5,252.39999999999998 L376.2,252.39999999999998 L376.2,247.89999999999998 L386.2,257.59999999999997 L376.2,267.29999999999995 L376.2,262.79999999999995 L334.5,262.79999999999995 Z" fill="#cccccc" stroke="#222" stroke-width="1.2" stroke-linejoin="miter"/>
<line x1="418.80" y1="384.85" x2="418.80" y2="483.60" stroke="#000" stroke-width="1.5"/>
<line x1="415.00" y1="480.00" x2="418.80" y2="480.00" stroke="#000" stroke-width="1.3"/>
<text x="411.00" y="482.60" font-size="9.6" text-anchor="end" font-weight="normal" fill="#000">0</text>
<line x1="415.00" y1="457.31" x2="418.80" y2="457.31" stroke="#000" stroke-width="1.3"/>
<text x="411.00" y="459.91" font-size="9.6" text-anchor="end" font-weight="normal" fill="#000">25</text>
<line x1="415.00" y1="434.62" x2="418.80" y2="434.62" stroke="#000" stroke-width="1.3"/>
<text x="411.00" y="437.23" font-size="9.6" text-anchor="end" font-weight="normal" fill="#000">50</text>
<line x1="415.00" y1="411.94" x2="418.80" y2="411.94" stroke="#000" stroke-width="1.3"/>
<text x="411.00" y="414.54" font-size="9.6" text-anchor="end" font-weight="normal" fill="#000">75</text>
<line x1="415.00" y1="389.25" x2="418.80" y2="389.25" stroke="#000" stroke-width="1.3"/>
<text x="411.00" y="391.85" font-size="9.6" text-anchor="end" font-weight="normal" fill="#000">100</text>
<line x1="429.30" y1="484.20" x2="429.30" y2="487.90" stroke="#000" stroke-width="1.3"/>
<text x="429.30" y="499.00" font-size="9.9" text-anchor="middle" font-weight="normal" fill="#000">A</text>
<rect x="421.60" y="389.25" width="15.40" height="90.75" fill="#fff" stroke="#8e1e40" stroke-width="1.6"/>
<rect x="421.60" y="389.25" width="15.40" height="90.75" fill="#cd857a" stroke="#8e1e40" stroke-width="1.6"/>
<line x1="447.10" y1="484.20" x2="447.10" y2="487.90" stroke="#000" stroke-width="1.3"/>
<text x="447.10" y="499.00" font-size="9.9" text-anchor="middle" font-weight="normal" fill="#000">B</text>
<rect x="439.40" y="389.25" width="15.40" height="90.75" fill="#fff" stroke="#8e1e40" stroke-width="1.6"/>
<rect x="439.40" y="457.31" width="15.40" height="22.69" fill="#cd857a" stroke="#8e1e40" stroke-width="1.6"/>
<line x1="464.90" y1="484.20" x2="464.90" y2="487.90" stroke="#000" stroke-width="1.3"/>
<text x="464.90" y="499.00" font-size="9.9" text-anchor="middle" font-weight="normal" fill="#000">T</text>
<text x="464.90" y="478.20" font-size="9.6" text-anchor="middle" font-weight="normal" fill="#000">NA</text>
<line x1="482.70" y1="484.20" x2="482.70" y2="487.90" stroke="#000" stroke-width="1.3"/>
<text x="482.70" y="499.00" font-size="9.9" text-anchor="middle" font-weight="normal" fill="#000">M</text>
<rect x="475.00" y="389.25" width="15.40" height="90.75" fill="#fff" stroke="#8e1e40" stroke-width="1.6"/>
<rect x="475.00" y="467.30" width="15.40" height="12.70" fill="#cd857a" stroke="#8e1e40" stroke-width="1.6"/>
<line x1="500.50" y1="484.20" x2="500.50" y2="487.90" stroke="#000" stroke-width="1.3"/>
<text x="500.50" y="499.00" font-size="9.9" text-anchor="middle" font-weight="normal" fill="#000">G</text>
<text x="500.50" y="478.20" font-size="9.6" text-anchor="middle" font-weight="normal" fill="#000">NA</text>
<path d="M334.5,429.2 L376.2,429.2 L376.2,424.7 L386.2,434.4 L376.2,444.09999999999997 L376.2,439.59999999999997 L334.5,439.59999999999997 Z" fill="#cccccc" stroke="#222" stroke-width="1.2" stroke-linejoin="miter"/>
<line x1="418.80" y1="544.35" x2="418.80" y2="643.60" stroke="#000" stroke-width="1.5"/>
<line x1="415.00" y1="640.00" x2="418.80" y2="640.00" stroke="#000" stroke-width="1.3"/>
<text x="411.00" y="642.60" font-size="9.6" text-anchor="end" font-weight="normal" fill="#000">0</text>
<line x1="415.00" y1="617.19" x2="418.80" y2="617.19" stroke="#000" stroke-width="1.3"/>
<text x="411.00" y="619.79" font-size="9.6" text-anchor="end" font-weight="normal" fill="#000">25</text>
<line x1="415.00" y1="594.38" x2="418.80" y2="594.38" stroke="#000" stroke-width="1.3"/>
<text x="411.00" y="596.98" font-size="9.6" text-anchor="end" font-weight="normal" fill="#000">50</text>
<line x1="415.00" y1="571.56" x2="418.80" y2="571.56" stroke="#000" stroke-width="1.3"/>
<text x="411.00" y="574.16" font-size="9.6" text-anchor="end" font-weight="normal" fill="#000">75</text>
<line x1="415.00" y1="548.75" x2="418.80" y2="548.75" stroke="#000" stroke-width="1.3"/>
<text x="411.00" y="551.35" font-size="9.6" text-anchor="end" font-weight="normal" fill="#000">100</text>
<line x1="429.30" y1="644.20" x2="429.30" y2="647.90" stroke="#000" stroke-width="1.3"/>
<text x="429.30" y="659.00" font-size="9.9" text-anchor="middle" font-weight="normal" fill="#000">A</text>
<rect x="421.60" y="548.75" width="15.40" height="91.25" fill="#fff" stroke="#8e1e40" stroke-width="1.6"/>
<rect x="421.60" y="551.21" width="15.40" height="88.79" fill="#cd857a" stroke="#8e1e40" stroke-width="1.6"/>
<line x1="447.10" y1="644.20" x2="447.10" y2="647.90" stroke="#000" stroke-width="1.3"/>
<text x="447.10" y="659.00" font-size="9.9" text-anchor="middle" font-weight="normal" fill="#000">B</text>
<rect x="439.40" y="548.75" width="15.40" height="91.25" fill="#fff" stroke="#8e1e40" stroke-width="1.6"/>
<rect x="439.40" y="618.74" width="15.40" height="21.26" fill="#cd857a" stroke="#8e1e40" stroke-width="1.6"/>
<line x1="464.90" y1="644.20" x2="464.90" y2="647.90" stroke="#000" stroke-width="1.3"/>
<text x="464.90" y="659.00" font-size="9.9" text-anchor="middle" font-weight="normal" fill="#000">T</text>
<rect x="457.20" y="548.75" width="15.40" height="91.25" fill="#fff" stroke="#8e1e40" stroke-width="1.6"/>
<rect x="457.20" y="620.84" width="15.40" height="19.16" fill="#cd857a" stroke="#8e1e40" stroke-width="1.6"/>
<line x1="482.70" y1="644.20" x2="482.70" y2="647.90" stroke="#000" stroke-width="1.3"/>
<text x="482.70" y="659.00" font-size="9.9" text-anchor="middle" font-weight="normal" fill="#000">M</text>
<text x="482.70" y="638.20" font-size="9.6" text-anchor="middle" font-weight="normal" fill="#000">NA</text>
<line x1="500.50" y1="644.20" x2="500.50" y2="647.90" stroke="#000" stroke-width="1.3"/>
<text x="500.50" y="659.00" font-size="9.9" text-anchor="middle" font-weight="normal" fill="#000">G</text>
<text x="500.50" y="638.20" font-size="9.6" text-anchor="middle" font-weight="normal" fill="#000">NA</text>
<path d="M334.5,588.5 L376.2,588.5 L376.2,584.0 L386.2,593.7 L376.2,603.4000000000001 L376.2,598.9000000000001 L334.5,598.9000000000001 Z" fill="#cccccc" stroke="#222" stroke-width="1.2" stroke-linejoin="miter"/>
<line x1="418.80" y1="714.35" x2="418.80" y2="813.10" stroke="#000" stroke-width="1.5"/>
<line x1="415.00" y1="809.50" x2="418.80" y2="809.50" stroke="#000" stroke-width="1.3"/>
<text x="411.00" y="812.10" font-size="9.6" text-anchor="end" font-weight="normal" fill="#000">0</text>
<line x1="415.00" y1="786.81" x2="418.80" y2="786.81" stroke="#000" stroke-width="1.3"/>
<text x="411.00" y="789.41" font-size="9.6" text-anchor="end" font-weight="normal" fill="#000">25</text>
<line x1="415.00" y1="764.12" x2="418.80" y2="764.12" stroke="#000" stroke-width="1.3"/>
<text x="411.00" y="766.73" font-size="9.6" text-anchor="end" font-weight="normal" fill="#000">50</text>
<line x1="415.00" y1="741.44" x2="418.80" y2="741.44" stroke="#000" stroke-width="1.3"/>
<text x="411.00" y="744.04" font-size="9.6" text-anchor="end" font-weight="normal" fill="#000">75</text>
<line x1="415.00" y1="718.75" x2="418.80" y2="718.75" stroke="#000" stroke-width="1.3"/>
<text x="411.00" y="721.35" font-size="9.6" text-anchor="end" font-weight="normal" fill="#000">100</text>
<line x1="429.30" y1="813.70" x2="429.30" y2="817.40" stroke="#000" stroke-width="1.3"/>
<text x="429.30" y="828.50" font-size="9.9" text-anchor="middle" font-weight="normal" fill="#000">A</text>
<rect x="421.60" y="718.75" width="15.40" height="90.75" fill="#fff" stroke="#8e1e40" stroke-width="1.6"/>
<rect x="421.60" y="725.10" width="15.40" height="84.40" fill="#cd857a" stroke="#8e1e40" stroke-width="1.6"/>
<line x1="447.10" y1="813.70" x2="447.10" y2="817.40" stroke="#000" stroke-width="1.3"/>
<text x="447.10" y="828.50" font-size="9.9" text-anchor="middle" font-weight="normal" fill="#000">B</text>
<text x="447.10" y="807.70" font-size="9.6" text-anchor="middle" font-weight="normal" fill="#000">NA</text>
<line x1="464.90" y1="813.70" x2="464.90" y2="817.40" stroke="#000" stroke-width="1.3"/>
<text x="464.90" y="828.50" font-size="9.9" text-anchor="middle" font-weight="normal" fill="#000">T</text>
<rect x="457.20" y="718.75" width="15.40" height="90.75" fill="#fff" stroke="#8e1e40" stroke-width="1.6"/>
<line x1="482.70" y1="813.70" x2="482.70" y2="817.40" stroke="#000" stroke-width="1.3"/>
<text x="482.70" y="828.50" font-size="9.9" text-anchor="middle" font-weight="normal" fill="#000">M</text>
<rect x="475.00" y="718.75" width="15.40" height="90.75" fill="#fff" stroke="#8e1e40" stroke-width="1.6"/>
<rect x="475.00" y="735.54" width="15.40" height="73.96" fill="#cd857a" stroke="#8e1e40" stroke-width="1.6"/>
<line x1="500.50" y1="813.70" x2="500.50" y2="817.40" stroke="#000" stroke-width="1.3"/>
<text x="500.50" y="828.50" font-size="9.9" text-anchor="middle" font-weight="normal" fill="#000">G</text>
<rect x="492.80" y="718.75" width="15.40" height="90.75" fill="#fff" stroke="#8e1e40" stroke-width="1.6"/>
<rect x="492.80" y="764.12" width="15.40" height="45.38" fill="#cd857a" stroke="#8e1e40" stroke-width="1.6"/>
<path d="M334.5,760.8 L376.2,760.8 L376.2,756.3 L386.2,766.0 L376.2,775.7 L376.2,771.2 L334.5,771.2 Z" fill="#cccccc" stroke="#222" stroke-width="1.2" stroke-linejoin="miter"/>
<text x="196.90" y="19.30" font-size="11.8" text-anchor="middle" font-weight="normal" fill="#000" class="ns">MRD course</text>
<text x="452.30" y="18.90" font-size="11.95" text-anchor="middle" font-weight="normal" fill="#000" class="ns">% BCR-ABL1+ cells</text>
<text x="0.00" y="0.00" font-size="14.0" text-anchor="middle" font-weight="bold" fill="#000" transform="translate(35.05 31.60) scale(1 1.08)" class="ns">A</text>
<text x="0.00" y="0.00" font-size="14.0" text-anchor="middle" font-weight="bold" fill="#000" transform="translate(35.20 373.90) scale(1 1.08)" class="ns">B</text>
<text x="0.00" y="0.00" font-size="14.0" text-anchor="middle" font-weight="bold" fill="#000" transform="translate(35.45 706.60) scale(1 1.08)" class="ns">C</text>
<text x="19.40" y="441.00" font-size="12" text-anchor="middle" font-weight="normal" fill="#000" transform="rotate(-90 19.4 441.0)" class="ns">MRD level</text>
<rect x="1" y="1" width="518" height="866" fill="none" stroke="#000" stroke-width="2"/>
</g>
</svg></div></body></html>
